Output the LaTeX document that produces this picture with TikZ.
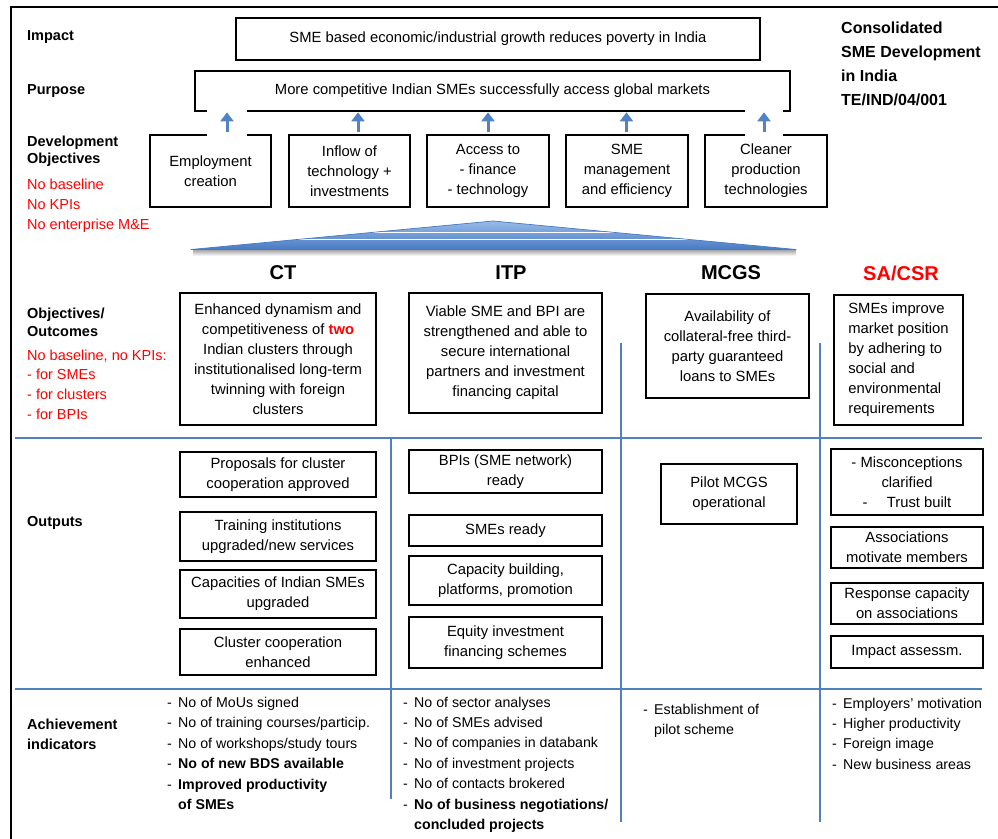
\documentclass[tikz,border=0pt]{standalone}
\usepackage{fontspec}
\setmainfont{Liberation Sans}
\usetikzlibrary{arrows.meta,calc}
\definecolor{lineblue}{HTML}{4F81BD}
\definecolor{arrblue}{HTML}{5082C4}
\definecolor{tritop}{HTML}{9ABDEB}
\definecolor{tribot}{HTML}{4779C2}
\definecolor{redtxt}{HTML}{FF0000}
\newcommand{\fbody}{\fontsize{14.8}{20}\selectfont}
\newcommand{\find}{\fontsize{14.2}{20.4}\selectfont}
\newcommand{\dsh}{\makebox[11pt][l]{-}}
\newcommand{\hng}{\hspace*{11pt}}
\begin{document}
\begin{tikzpicture}[x=1pt,y=-1pt,
  box/.style={draw=black, line width=2.7pt, align=center, inner sep=0pt, font=\fbody},
  arr/.style={draw=arrblue, line width=3pt, -{Triangle[length=9pt,width=13pt]}},
  sep/.style={draw=lineblue, line width=1.4pt},
  lab/.style={font=\fontsize{14.5}{17}\selectfont\bfseries, anchor=west, inner sep=0pt, align=left},
  redlab/.style={font=\fontsize{14.5}{20}\selectfont, text=redtxt, anchor=west, inner sep=0pt, align=left},
  hdr/.style={font=\fontsize{20}{24}\selectfont\bfseries, inner sep=0pt},
  ind/.style={font=\find, align=left, inner sep=0pt, anchor=north west}]
\useasboundingbox (0,0) rectangle (998,838);
% frame
\draw[black, line width=1.5pt] (11,840) -- (11,7) -- (1000,7);

% left labels
\node[lab] (lImpact) at (27,37) {Impact};
\node[lab] (lPurpose) at (27,91) {Purpose};
\node[lab, font=\fontsize{14.5}{16.5}\selectfont\bfseries] (lDev) at (27,151) {Development\\Objectives};
\node[redlab] (rDev) at (27,206) {No baseline\\No KPIs\\No enterprise M\&E};
\node[lab, font=\fontsize{14.5}{18}\selectfont\bfseries] (lObj) at (27,322) {Objectives/\\Outcomes};
\node[redlab, font=\fontsize{14.5}{19.7}\selectfont] (rObj) at (27,384.5) {No baseline, no KPIs:\\- for SMEs\\- for clusters\\- for BPIs};
\node[lab] (lOut) at (27,523) {Outputs};
\node[lab, font=\fontsize{14.5}{20}\selectfont\bfseries] (lAch) at (27,734) {Achievement\\indicators};

% right title
\node[lab, font=\fontsize{16}{24}\selectfont\bfseries] (title) at (841,64) {Consolidated\\SME Development\\in India\\TE/IND/04/001};

% impact & purpose
\node[box, minimum width=524pt, minimum height=42pt] (impact) at (498,39) {SME based economic/industrial growth reduces poverty in India};
\node[box, minimum width=595pt, minimum height=40pt] (purpose) at (492.5,91) {More competitive Indian SMEs successfully access global markets};

% development objectives
\node[box, minimum width=121pt, minimum height=72pt] (emp) at (210.5,171) {Employment\\creation};
\node[box, minimum width=121pt, minimum height=72pt] (inflow) at (349.5,171) {Inflow of\\technology +\\investments};
\node[box, minimum width=122pt, minimum height=72pt] (access) at (488,171) {Access to\\- finance\\- technology};
\node[box, minimum width=122pt, minimum height=72pt] (mgmt) at (627,171) {SME\\management\\and efficiency};
\node[box, minimum width=122pt, minimum height=72pt] (clean) at (766,171) {Cleaner\\production\\technologies};

% white gaps behind two arrows
\fill[white] (207,107) rectangle (247,139);
\fill[white] (745,107) rectangle (783,139);

% arrows
\draw[arr] ([xshift=16.5pt,yshift=1.5pt]emp.north) -- ([xshift=16.5pt]emp.north |- purpose.south);
\draw[arr] ([xshift=8.5pt,yshift=1.5pt]inflow.north) -- ([xshift=8.5pt]inflow.north |- purpose.south);
\draw[arr] ([yshift=1.5pt]access.north) -- (access.north |- purpose.south);
\draw[arr] ([xshift=-0.5pt,yshift=1.5pt]mgmt.north) -- ([xshift=-0.5pt]mgmt.north |- purpose.south);
\draw[arr] ([xshift=-2pt,yshift=1.5pt]clean.north) -- ([xshift=-2pt]clean.north |- purpose.south);

% triangle
\shade[top color=black!40, bottom color=white] (193,249) rectangle (796,256);
\begin{scope}
  \clip (191,249.5) -- (493,221) -- (796,249.5) -- cycle;
  \shade[top color=tritop, bottom color=tribot] (191,220) rectangle (796,250);
  \draw[white, line width=0.9pt] (150,232) -- (850,232) (150,239.5) -- (850,239.5);
\end{scope}
\draw[tribot, line width=0.7pt, line join=round] (191,249.5) -- (493,221) -- (796,249.5) -- cycle;

% column headers
\node[hdr] (hCT) at (283,273) {CT};
\node[hdr] (hITP) at (511,273) {ITP};
\node[hdr] (hMCGS) at (731,273) {MCGS};
\node[hdr, text=redtxt] (hSA) at (901,273) {SA/CSR};

% separator lines
\draw[sep] (15,438) -- (982,438);
\draw[sep] (15,689) -- (982,689);
\draw[sep] (391,438) -- (391,799);
\draw[sep] (621,343) -- (621,822);
\draw[sep] (820,343) -- (820,822);

% objectives / outcomes
\node[box, minimum width=196pt, minimum height=132pt] (oCT) at (278,359) {Enhanced dynamism and\\competitiveness of \textcolor{redtxt}{\textbf{two}}\\Indian clusters through\\institutionalised long-term\\twinning with foreign\\clusters};
\node[box, minimum width=193pt, minimum height=120pt] (oITP) at (505.5,353) {Viable SME and BPI are\\strengthened and able to\\secure international\\partners and investment\\financing capital};
\node[box, minimum width=163pt, minimum height=104pt] (oMCGS) at (727.5,346) {Availability of\\collateral-free third-\\party guaranteed\\loans to SMEs};
\node[box, minimum width=129pt, minimum height=130pt, align=left] (oSA) at (898.5,360) {SMEs improve\\market position\\by adhering to\\social and\\environmental\\requirements};

% outputs CT
\node[box, minimum width=196pt, minimum height=45pt] (ct1) at (278,474.5) {Proposals for cluster\\cooperation approved};
\node[box, minimum width=196pt, minimum height=49pt] (ct2) at (278,536.5) {Training institutions\\upgraded/new services};
\node[box, minimum width=196pt, minimum height=48pt] (ct3) at (278,594) {Capacities of Indian SMEs\\upgraded};
\node[box, minimum width=196pt, minimum height=46pt] (ct4) at (278,652) {Cluster cooperation\\enhanced};

% outputs ITP
\node[box, minimum width=193pt, minimum height=43pt] (itp1) at (505.5,471.5) {BPIs (SME network)\\ready};
\node[box, minimum width=193pt, minimum height=31pt] (itp2) at (505.5,530.5) {SMEs ready};
\node[box, minimum width=193pt, minimum height=49pt] (itp3) at (505.5,580.5) {Capacity building,\\platforms, promotion};
\node[box, minimum width=193pt, minimum height=51pt] (itp4) at (505.5,642.5) {Equity investment\\financing schemes};

% outputs MCGS
\node[box, minimum width=136pt, minimum height=60pt] (mc1) at (729,494) {Pilot MCGS\\operational};

% outputs SA/CSR
\node[box, minimum width=152pt, minimum height=66pt] (sa1) at (907,482) {- Misconceptions\\clarified\\-\hspace{1.3em}Trust built};
\node[box, minimum width=152pt, minimum height=41pt] (sa2) at (907,547.5) {Associations\\motivate members};
\node[box, minimum width=152pt, minimum height=41pt] (sa3) at (907,603.5) {Response capacity\\on associations};
\node[box, minimum width=152pt, minimum height=32pt] (sa4) at (907,652) {Impact assessm.};

% achievement indicators
\node[ind] (iCT) at (167,697) {\dsh No of MoUs signed\\\dsh No of training courses/particip.\\\dsh No of workshops/study tours\\\dsh\textbf{No of new BDS available}\\\dsh\textbf{Improved productivity}\\\hng\textbf{of SMEs}};
\node[ind] (iITP) at (403,696.5) {\dsh No of sector analyses\\\dsh No of SMEs advised\\\dsh No of companies in databank\\\dsh No of investment projects\\\dsh No of contacts brokered\\\dsh\textbf{No of business negotiations/}\\\hng\textbf{concluded projects}};
\node[ind, font=\fontsize{14.2}{20}\selectfont] (iMC) at (643,704) {\dsh Establishment of\\\hng pilot scheme};
\node[ind] (iSA) at (832,697.5) {\dsh Employers' motivation\\\dsh Higher productivity\\\dsh Foreign image\\\dsh New business areas};
\end{tikzpicture}
\end{document}
